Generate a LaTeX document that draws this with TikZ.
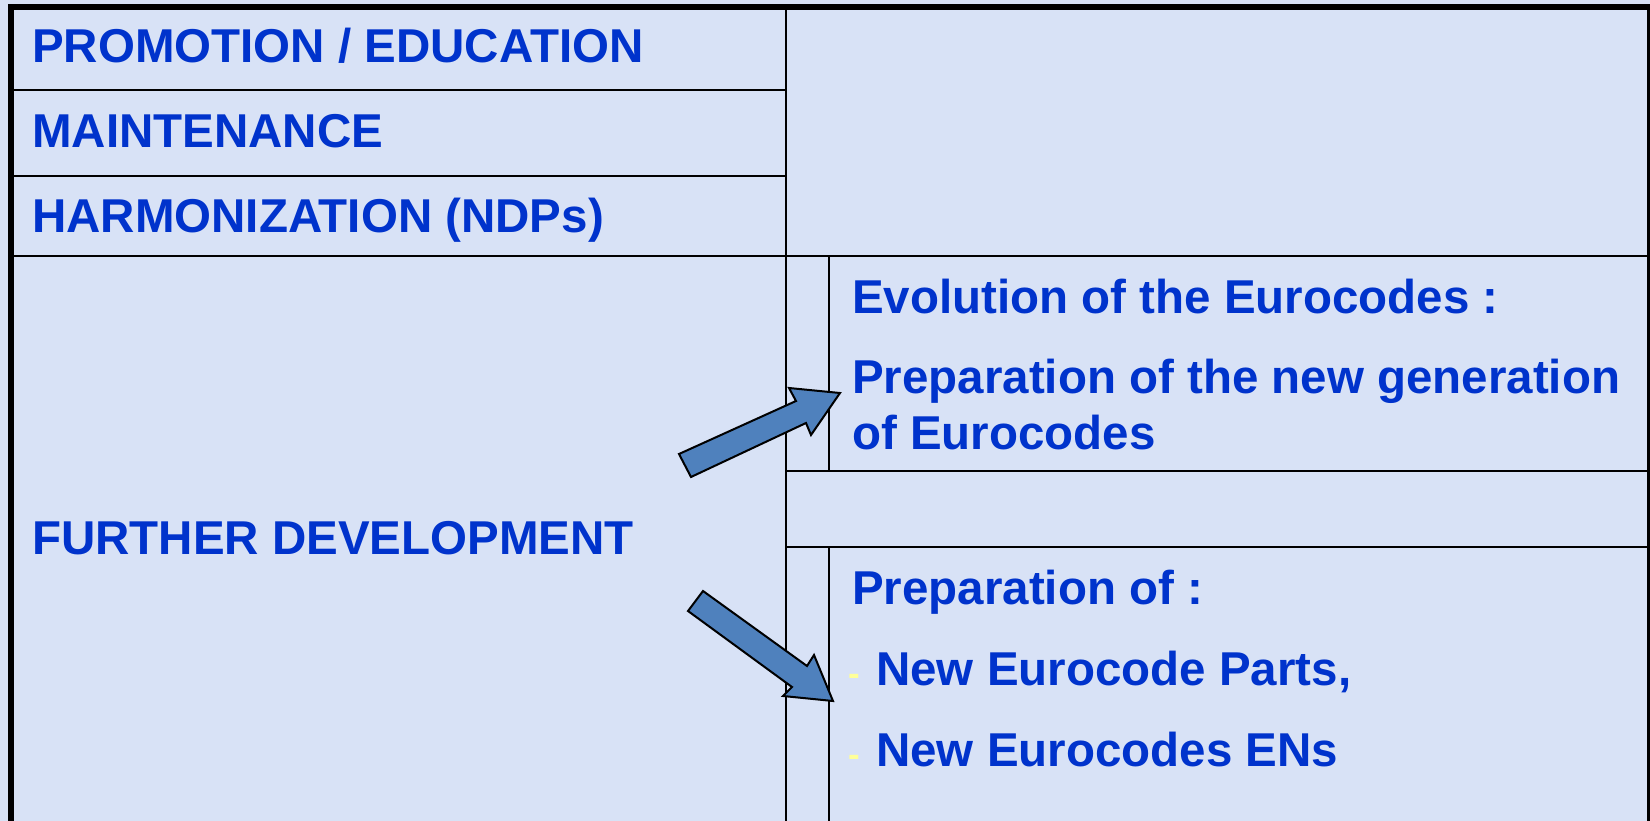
\documentclass[tikz,border=0pt]{standalone}
\usepackage{fontspec}
\setmainfont{Liberation Sans}
\definecolor{bgblue}{RGB}{216,226,246}
\definecolor{txtblue}{RGB}{0,51,204}
\definecolor{arrowblue}{RGB}{79,129,189}
\definecolor{dashyellow}{RGB}{255,255,153}
\tikzset{
  lbl/.style={anchor=base west, inner sep=0pt, text=txtblue, font=\fontsize{47.5}{56}\selectfont\bfseries},
  bulletdash/.style={anchor=base west, inner sep=0pt, text=dashyellow, font=\fontsize{35}{40}\selectfont\bfseries},
  gridline/.style={draw=black, line width=2.5pt},
  frameline/.style={draw=black, line width=6pt},
  blockarrow/.style={fill=arrowblue, draw=black, line width=2pt, line join=miter}
}
\begin{document}
\begin{tikzpicture}[x=1pt,y=-1pt]
\useasboundingbox (0,0) rectangle (1650,821);
\fill[bgblue] (0,0) rectangle (1650,821);
% grid lines
\draw[gridline] (11,90) -- (786,90);
\draw[gridline] (11,176) -- (786,176);
\draw[gridline] (11,256) -- (1648,256);
\draw[gridline] (786,7) -- (786,821);
\draw[gridline] (829,256) -- (829,471);
\draw[gridline] (829,547) -- (829,821);
\draw[gridline] (786,471) -- (1648,471);
\draw[gridline] (786,547) -- (1648,547);
\draw[draw=black, line width=3pt] (1648.5,7) -- (1648.5,821);
% outer frame
\draw[frameline] (11,821) -- (11,7) -- (1650,7);
% texts
\node[lbl] (promo) at (32,63) {PROMOTION / EDUCATION};
\node[lbl] (maint) at (32,148) {MAINTENANCE};
\node[lbl] (harmo) at (32,233) {HARMONIZATION (NDPs)};
\node[lbl] (further) at (32,554) {FURTHER DEVELOPMENT};
\node[lbl] (evol) at (852,313) {Evolution of the Eurocodes :};
\node[lbl] (prepnew) at (852,393) {Preparation of the new generation};
\node[lbl] (ofeuro) at (852,449) {of Eurocodes};
\node[lbl] (prepof) at (852,604) {Preparation of :};
\node[bulletdash] (d1) at (848,685) {-};
\node[lbl] (parts) at (876,685) {New Eurocode Parts,};
\node[bulletdash] (d2) at (848,766) {-};
\node[lbl] (ens) at (876,766) {New Eurocodes ENs};
% block arrows
\draw[blockarrow] (679,454) -- (796,401) -- (789,388) -- (840,393) -- (811,435) -- (806,423) -- (691,477) -- cycle;
\draw[blockarrow] (703,591) -- (807,666) -- (814,655) -- (833,701) -- (783,696) -- (792,687) -- (688,611) -- cycle;
\end{tikzpicture}
\end{document}
